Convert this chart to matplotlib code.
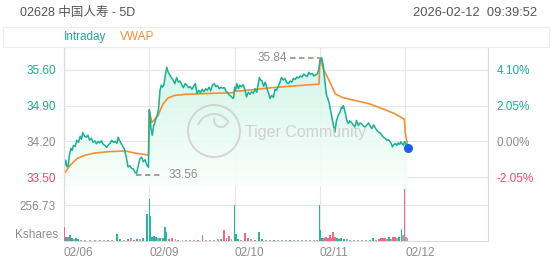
import numpy as np
import matplotlib
matplotlib.use("Agg")
import matplotlib.pyplot as plt
from matplotlib.patches import Polygon, Circle, Rectangle, Arc

plt.rcParams['font.family'] = ['Liberation Sans', 'Noto Sans CJK SC', 'DejaVu Sans']

# ---- data ----
dates = ["02/06", "02/09", "02/10", "02/11", "02/12"]
prev_close = 34.20
price_ticks = [33.50, 34.20, 34.90, 35.60]
pct_labels = ["-2.05%", "0.00%", "2.05%", "4.10%"]
vol_tick = 256.73
day_low, day_high = 33.56, 35.84

# intraday price: position inside the day (0..1) and price
d1_t = [0, .01, .02, .035, .05, .065, .08, .095, .11, .13, .15, .17, .19, .205, .22, .24, .26, .28, .30, .32,
        .34, .36, .38, .40, .42, .44, .46, .48, .50, .52, .54, .56, .58, .60, .62, .635, .65, .67, .69, .71,
        .73, .75, .77, .79, .81, .83, .85, .87, .89, .91, .93, .95, .97, .99]
d1_p = [33.68, 33.74, 33.83, 33.70, 33.72, 33.95, 34.06, 34.02, 34.12, 34.10, 34.22, 34.18, 34.30, 34.24, 34.37,
        34.30, 34.28, 34.32, 34.22, 34.26, 34.18, 34.21, 34.15, 34.20, 34.17, 34.21, 34.14, 34.12, 34.08, 34.13,
        34.16, 34.22, 34.18, 34.20, 34.16, 34.28, 34.22, 34.16, 34.10, 34.04, 33.89, 33.70, 33.72, 33.67, 33.66,
        33.60, 33.57, 33.72, 33.86, 33.89, 33.80, 33.84, 33.74, 33.69]
d2_t = [0, .01, .02, .035, .05, .065, .08, .095, .11, .125, .14, .155, .17, .19, .205, .22, .24, .26, .28, .30,
        .32, .34, .36, .38, .40, .42, .44, .46, .48, .50, .52, .54, .56, .58, .60, .62, .64, .66, .68, .70,
        .72, .74, .76, .78, .80, .82, .84, .86, .88, .90, .92, .94, .96, .98, .99]
d2_p = [34.82, 34.70, 34.45, 34.32, 34.50, 34.57, 34.66, 34.72, 34.86, 35.19, 35.30, 35.26, 35.30, 35.52, 35.65,
        35.56, 35.50, 35.44, 35.40, 35.33, 35.45, 35.36, 35.38, 35.31, 35.25, 35.33, 35.30, 35.25, 35.27, 35.22,
        35.28, 35.33, 35.13, 35.20, 35.15, 35.22, 35.17, 35.23, 35.20, 35.26, 35.19, 35.30, 35.33, 35.27, 35.29,
        35.23, 35.26, 35.24, 35.25, 35.18, 35.15, 35.10, 35.08, 35.04, 35.06]
d3_t = [0, .012, .025, .045, .06, .08, .10, .12, .14, .16, .18, .20, .22, .24, .26, .275, .29, .305, .32, .34,
        .36, .38, .40, .415, .435, .455, .475, .49, .51, .53, .55, .57, .59, .61, .63, .65, .67, .69, .71, .73,
        .75, .77, .79, .81, .83, .85, .87, .89, .91, .93, .95, .97, .99]
d3_p = [35.26, 35.20, 35.33, 35.23, 35.30, 35.27, 35.31, 35.22, 35.07, 35.16, 35.12, 35.17, 35.14, 35.23, 35.16,
        35.30, 35.45, 35.40, 35.39, 35.28, 35.36, 35.23, 35.13, 35.04, 35.10, 35.06, 35.22, 35.20, 35.27, 35.35,
        35.45, 35.40, 35.43, 35.35, 35.33, 35.38, 35.36, 35.43, 35.41, 35.46, 35.44, 35.48, 35.46, 35.52, 35.49,
        35.47, 35.55, 35.51, 35.53, 35.48, 35.50, 35.52, 35.63]
d4_t = [0, .01, .02, .03, .04, .05, .06, .07, .08, .09, .10, .11, .12, .13, .14, .155, .175, .185, .195, .205,
        .215, .225, .235, .245, .255, .265, .275, .285, .295, .305, .315, .325, .335, .35, .37, .39, .41, .43, .45,
        .47, .49, .51, .53, .55, .57, .59, .61, .63, .65, .67, .69, .71, .73, .745, .765, .785, .805, .825, .84,
        .85, .865, .885, .90, .92, .935, .95, .965, .98, .99]
d4_p = [35.76, 35.80, 35.84, 35.76, 35.68, 35.50, 35.35, 35.20, 35.09, 35.05, 35.00, 34.95, 34.84, 34.78, 34.67,
        34.55, 34.38, 34.50, 34.61, 34.66, 34.71, 34.74, 34.77, 34.82, 34.87, 34.85, 34.90, 34.84, 34.77, 34.70,
        34.61, 34.58, 34.55, 34.60, 34.57, 34.52, 34.48, 34.61, 34.51, 34.56, 34.54, 34.50, 34.48, 34.52, 34.56,
        34.50, 34.45, 34.52, 34.46, 34.41, 34.38, 34.36, 34.31, 34.28, 34.26, 34.22, 34.23, 34.19, 34.14, 34.09,
        34.13, 34.16, 34.12, 34.17, 34.14, 34.19, 34.15, 34.12, 34.19]
d5_t = [0, .015, .03]
d5_p = [34.19, 34.10, 34.06]

# VWAP per day
v1_t = [0, .07, .16, .25, .36, .54, .72, .83, .99]
v1_p = [33.56, 33.73, 33.87, 33.93, 33.97, 34.00, 34.01, 33.97, 33.93]
v2_t = [0, .03, .10, .16, .22, .30, .42, .74, .99]
v2_p = [34.80, 34.57, 34.70, 34.93, 35.05, 35.10, 35.12, 35.14, 35.15]
v3_t = [0, .10, .26, .50, .74, .99]
v3_p = [35.18, 35.19, 35.22, 35.26, 35.29, 35.32]
v4_t = [0, .04, .12, .18, .26, .41, .57, .73, .88, .99]
v4_p = [35.84, 35.62, 35.35, 35.13, 35.06, 35.00, 34.94, 34.84, 34.74, 34.63]
v5_t = [0, .015, .03]
v5_p = [34.38, 34.24, 34.12]

# volume bars (Kshares): time in days from 02/06 open, value, u=up d=down n=flat
vol_t = [0.006, 0.023, 0.047, 0.070, 0.094, 0.117, 0.141, 0.164, 0.199, 0.246, 0.305, 0.363, 0.422, 0.469,
         0.516, 0.563, 0.621, 0.657, 0.703, 0.750, 0.785, 0.821, 0.856, 0.891, 0.926, 0.973, 1.002, 1.010,
         1.032, 1.055, 1.079, 1.102, 1.126, 1.161, 1.184, 1.204, 1.231, 1.266, 1.302, 1.337, 1.384, 1.430,
         1.477, 1.524, 1.571, 1.626, 1.665, 1.712, 1.758, 1.805, 1.841, 1.876, 1.905, 1.934, 1.964, 1.997,
         2.016, 2.040, 2.075, 2.122, 2.157, 2.192, 2.239, 2.286, 2.321, 2.368, 2.415, 2.462, 2.509, 2.556,
         2.603, 2.649, 2.696, 2.743, 2.790, 2.837, 2.884, 2.931, 2.966, 2.993, 3.007, 3.025, 3.048, 3.071,
         3.095, 3.118, 3.136, 3.153, 3.177, 3.200, 3.224, 3.247, 3.282, 3.318, 3.353, 3.400, 3.447, 3.494,
         3.541, 3.587, 3.622, 3.658, 3.693, 3.716, 3.740, 3.763, 3.787, 3.810, 3.834, 3.857, 3.880, 3.904,
         3.927, 3.957, 3.974, 3.990, 4.009, 4.027]
vol_v = [102, 31, 25, 43, 20, 14, 18, 12, 8, 6, 5, 6, 8, 5,
         9, 6, 48, 14, 8, 14, 18, 10, 16, 12, 18, 190, 300, 180,
         30, 38, 32, 20, 22, 18, 100, 64, 16, 20, 12, 10, 8, 6,
         9, 5, 10, 40, 6, 5, 8, 12, 16, 76, 22, 36, 14, 257,
         52, 14, 10, 55, 18, 14, 10, 64, 12, 8, 6, 10, 6, 8,
         5, 9, 6, 5, 8, 6, 7, 9, 6, 260, 76, 22, 18, 28,
         20, 40, 24, 62, 30, 22, 16, 20, 12, 16, 10, 8, 6, 8,
         6, 9, 24, 10, 14, 20, 22, 20, 12, 26, 14, 30, 26, 18,
         30, 88, 40, 369, 28, 20]
vol_dir = "".join([
    "duduunuunnnnnn",
    "dnuundndunuuuu",
    "uuunuuuuddndnn",
    "nnddnnnnddddnu",
    "uunddnduunnunn",
    "nunnnnnnnuuudd",
    "ddddduuuunnnnn",
    "nnunddddnunddn",
    "uundnn",
])

GREEN = "#1cae96"
RED = "#ea4d66"
ORANGE = "#f39034"
GREY = "#8c8c8c"
GRID = "#e6e6e6"

fig = plt.figure(figsize=(5.52, 2.65), dpi=100)
W, H = 552.0, 265.0

def fx(px):
    return px / W

def fy(py):
    return 1 - py / H

L, R = 64, 488
ax = fig.add_axes([fx(L), fy(186), fx(R - L), (186 - 47) / H])
axv = fig.add_axes([fx(L), fy(241), fx(R - L), (241 - 186) / H])

xmax = (R - L) / 85.3
ylo = 33.50 - (186 - 177) * 0.70 / 36
yhi = 35.60 + (70 - 47) * 0.70 / 36

price_t, price_p, vw_t, vw_p = [], [], [], []
for d, (tt, pp) in enumerate([(d1_t, d1_p), (d2_t, d2_p), (d3_t, d3_p), (d4_t, d4_p), (d5_t, d5_p)]):
    price_t += [d + t for t in tt]
    price_p += pp
for d, (tt, pp) in enumerate([(v1_t, v1_p), (v2_t, v2_p), (v3_t, v3_p), (v4_t, v4_p), (v5_t, v5_p)]):
    vw_t += [d + t for t in tt]
    vw_p += pp

# gradient area under the price line
verts = [(price_t[0], ylo)] + list(zip(price_t, price_p)) + [(price_t[-1], ylo)]
poly = Polygon(verts, closed=True, facecolor="none", edgecolor="none")
ax.add_patch(poly)
top_c = np.array([0.80, 0.96, 0.90])
bot_c = np.array([0.98, 1.0, 0.99])
g = np.linspace(0, 1, 100)[:, None]
grad = (top_c * (1 - g) + bot_c * g)[:, None, :].repeat(2, axis=1)
im = ax.imshow(grad, extent=[0, xmax, ylo, 35.9], origin="upper", aspect="auto", zorder=1, alpha=0.9)
im.set_clip_path(poly)

ax.plot(price_t, price_p, color=GREEN, lw=1.1, zorder=4)
ax.plot(vw_t, vw_p, color=ORANGE, lw=1.2, zorder=3)
ax.plot(price_t[-1], price_p[-1], "o", color="#1d5fe3", ms=5.5, zorder=5)

# high / low markers
ax.plot([3.0 - 0.35, 3.0 - 0.01], [day_high, day_high], color="#999999", lw=1.3, ls=(0, (3, 2)), zorder=3)
ax.text(3.0 - 0.38, day_high, f"{day_high:.2f}", color=GREY, fontsize=8.5, ha="right", va="center")
ax.plot([0.84, 1.16], [day_low - 0.02, day_low - 0.02], color="#999999", lw=1.3, ls=(0, (3, 2)), zorder=3)
ax.text(1.22, day_low - 0.02, f"{day_low:.2f}", color=GREY, fontsize=8.5, ha="left", va="center")

ax.set_xlim(0, xmax)
ax.set_ylim(ylo, yhi)
ax.set_yticks(price_ticks)
ax.set_yticklabels([f"{p:.2f}" for p in price_ticks], fontsize=8.5)
for lab, p in zip(ax.get_yticklabels(), price_ticks):
    lab.set_color(GREEN if p > prev_close else (RED if p < prev_close else GREY))
ax.set_xticks(range(5))
ax.tick_params(axis="both", length=0, pad=6)
ax.tick_params(axis="x", labelbottom=False)
ax.grid(True, color=GRID, lw=0.8, zorder=0)
ax.set_axisbelow(True)

axr = ax.twinx()
axr.set_ylim(ylo, yhi)
axr.set_yticks(price_ticks)
axr.set_yticklabels(pct_labels, fontsize=8.5)
for lab, p in zip(axr.get_yticklabels(), price_ticks):
    lab.set_color(GREEN if p > prev_close else (RED if p < prev_close else GREY))
axr.tick_params(length=0, pad=6)

for a in (ax, axr, axv):
    for s in a.spines.values():
        s.set_color("#dcdcdc")
        s.set_linewidth(0.8)
ax.spines["bottom"].set_visible(False)
axr.spines["bottom"].set_visible(False)
axv.spines["top"].set_visible(False)

# volume
cols = {"u": "#2bb59e", "d": "#ec6a86", "n": "#a9a9a9"}
axv.bar(vol_t, vol_v, width=0.013, color=[cols[c] for c in vol_dir], linewidth=0, zorder=3)
axv.set_xlim(0, xmax)
axv.set_ylim(0, vol_tick * (241 - 186) / 36)
axv.set_yticks([vol_tick])
axv.set_yticklabels([f"{vol_tick:.2f}"], fontsize=8.5, color=GREY)
axv.set_xticks(range(5))
axv.set_xticklabels(dates, fontsize=8.5, color=GREY, ha="left")
axv.tick_params(axis="both", length=0, pad=6)
axv.tick_params(axis="x", pad=4)
axv.grid(True, color=GRID, lw=0.8, zorder=0)
axv.set_axisbelow(True)
fig.text(fx(58), fy(235), "Kshares", fontsize=8.5, color=GREY, ha="right", va="center")

# watermark
wm = fig.add_axes([0, 0, 1, 1], facecolor="none")
wm.set_xlim(0, W)
wm.set_ylim(H, 0)
wm.axis("off")
wm.add_patch(Circle((214, 131), 26, fill=False, ec="#cccccc", lw=1.4, alpha=0.8))
wm.add_patch(Arc((214, 131), 34, 34, theta1=200, theta2=330, ec="#cccccc", lw=1.4, alpha=0.8))
wm.add_patch(Arc((221, 120), 14, 14, theta1=20, theta2=200, ec="#cccccc", lw=1.4, alpha=0.8))
wm.text(245, 132, "Tiger Community", fontsize=11.5, color="#cccccc", alpha=0.9, ha="left", va="center")

# header and legend row
wm.add_patch(Rectangle((3, 27), 546, 20, fill=False, ec="#eeeeee", lw=0.8))
wm.text(20, 13, "02628 中国人寿 - 5D", fontsize=9, color="#555555", ha="left", va="center")
wm.text(537, 13, "2026-02-12  09:39:52", fontsize=9.3, color="#555555", ha="right", va="center")
wm.text(64, 37, "Intraday", fontsize=8.5, color=GREEN, ha="left", va="center")
wm.text(120, 37, "VWAP", fontsize=8.5, color=ORANGE, ha="left", va="center")

fig.savefig("out.png", dpi=100)
